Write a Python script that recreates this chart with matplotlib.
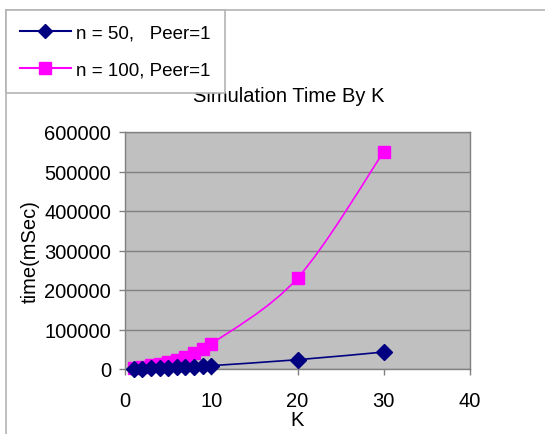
import matplotlib
matplotlib.use('Agg')
import matplotlib.pyplot as plt
import numpy as np
from matplotlib.path import Path
from matplotlib.patches import PathPatch
from matplotlib.lines import Line2D

# data
k_values = [1, 2, 3, 4, 5, 6, 7, 8, 9, 10, 20, 30]
time_n50 = [500, 1000, 1500, 2200, 3000, 3800, 4700, 5800, 7000, 8500, 23500, 43000]
time_n100 = [2000, 5000, 9000, 13000, 18000, 24000, 31000, 40000, 51000, 63000, 230000, 550000]
series_labels = ['n = 50,   Peer=1', 'n = 100, Peer=1']
x_ticks = [0, 10, 20, 30, 40]
y_ticks = [0, 100000, 200000, 300000, 400000, 500000, 600000]

plt.rcParams['font.family'] = ['Liberation Sans', 'DejaVu Sans']
FS = 14.5


def smooth_path(xs, ys):
    # Excel-like smoothed line: Bezier segments with Catmull-Rom tangents
    pts = np.column_stack([xs, ys]).astype(float)
    verts = [pts[0]]
    codes = [Path.MOVETO]
    n = len(pts)
    for i in range(n - 1):
        p0 = pts[i - 1] if i > 0 else pts[i]
        p1 = pts[i]
        p2 = pts[i + 1]
        p3 = pts[i + 2] if i + 2 < n else pts[i + 1]
        c1 = p1 + (p2 - p0) / 6.0
        c2 = p2 - (p3 - p1) / 6.0
        verts += [c1, c2, p2]
        codes += [Path.CURVE4] * 3
    return Path(verts, codes)


fig = plt.figure(figsize=(5.45, 4.35), dpi=100)
ax = fig.add_axes([125 / 545, 1 - 370 / 435, 345 / 545, 237 / 435])
ax.set_facecolor('#c0c0c0')

navy = '#000080'
magenta = '#ff00ff'

ax.add_patch(PathPatch(smooth_path(k_values, time_n100), fill=False,
                       edgecolor=magenta, lw=1.2, zorder=3, clip_on=False))
ax.plot(k_values, time_n100, linestyle='none', marker='s', ms=8.5,
        color=magenta, clip_on=False, zorder=4)
ax.add_patch(PathPatch(smooth_path(k_values, time_n50), fill=False,
                       edgecolor=navy, lw=1.2, zorder=5, clip_on=False))
ax.plot(k_values, time_n50, linestyle='none', marker='D', ms=8.5,
        color=navy, clip_on=False, zorder=6)

ax.set_xlim(0, 40)
ax.set_ylim(0, 600000)
ax.set_xticks(x_ticks)
ax.set_yticks(y_ticks)
ax.set_yticklabels([str(v) for v in y_ticks])
ax.tick_params(axis='both', labelsize=FS, direction='out', length=4,
               color='#808080', width=1)
ax.tick_params(axis='y', pad=6)
ax.tick_params(axis='x', pad=12)
ax.yaxis.grid(True, color='#808080', lw=1)
ax.set_axisbelow(True)
for s in ax.spines.values():
    s.set_color('#808080')
    s.set_linewidth(1)

ax.set_xlabel('K', fontsize=FS, labelpad=0)
ax.set_ylabel('time(mSec)', fontsize=FS, labelpad=3)

# chart title (partly hidden by the legend box)
fig.text(289 / 545, 1 - 97 / 435, 'Simulation Time By K', fontsize=FS,
         ha='center', va='center', zorder=2)

# outer chart border (cropped at right and bottom)
fig.add_artist(Line2D([6 / 545, 6 / 545], [0, 1 - 11 / 435], color='#b4b4b4', lw=1.2))
fig.add_artist(Line2D([6 / 545, 1], [1 - 11 / 435, 1 - 11 / 435], color='#b4b4b4', lw=1.2))

handles = [
    Line2D([], [], color=navy, marker='D', ms=7.5, lw=1.5),
    Line2D([], [], color=magenta, marker='s', ms=8, lw=1.5),
]
leg = fig.legend(handles, series_labels, loc='upper left',
                 bbox_to_anchor=(6 / 545, 1 - 11 / 435), fontsize=13.5,
                 frameon=True, fancybox=False, edgecolor='#b4b4b4',
                 framealpha=1, handlelength=2.7, handletextpad=0.3,
                 labelspacing=1.1, borderpad=0.75, borderaxespad=0)
leg.get_frame().set_linewidth(1.2)
leg.set_zorder(10)

fig.savefig('out.png', dpi=100)
